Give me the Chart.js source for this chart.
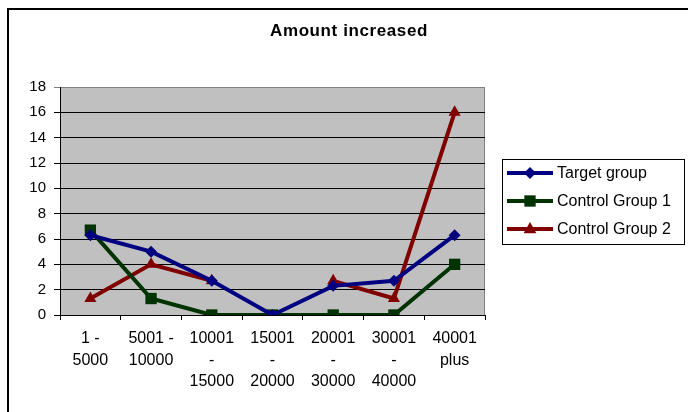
<!DOCTYPE html>
<html>
<head>
<meta charset="utf-8">
<script src="https://cdn.jsdelivr.net/npm/chart.js@4.4.1/dist/chart.umd.min.js"></script>
<style>
  html, body { margin: 0; padding: 0; background: #fff; }
  canvas { display: block; }
</style>
</head>
<body>
<canvas id="chart" width="688" height="412"></canvas>
<script>
const chartTitle = 'Amount increased';
const categories = [
    ['1 -', '5000'], ['5001 -', '10000'], ['10001', '-', '15000'], ['15001', '-', '20000'],
    ['20001', '-', '30000'], ['30001', '-', '40000'], ['40001', 'plus']
];
const targetGroup = [6.3, 5.0, 2.7, 0, 2.3, 2.7, 6.3];
const controlGroup1 = [6.7, 1.3, 0, 0, 0, 0, 4.0];
const controlGroup2 = [1.3, 4.0, 2.7, null, 2.7, 1.3, 16.0];
const yTicks = [0, 2, 4, 6, 8, 10, 12, 14, 16, 18];

const fontFamily = "'Liberation Sans', Arial, sans-serif";

function drawMarker(ctx, style, x, y, r, color) {
    ctx.fillStyle = color;
    ctx.beginPath();
    if (style === 'rectRot') {
        ctx.moveTo(x, y - r); ctx.lineTo(x + r, y); ctx.lineTo(x, y + r); ctx.lineTo(x - r, y);
    } else if (style === 'rect') {
        const s = r * Math.SQRT1_2;
        ctx.rect(x - s, y - s, 2 * s, 2 * s);
    } else {
        ctx.moveTo(x, y - r); ctx.lineTo(x + r * 0.9, y + r * 0.6); ctx.lineTo(x - r * 0.9, y + r * 0.6);
    }
    ctx.closePath();
    ctx.fill();
}

// frame, plot background, title and legend box
const excelLook = {
    id: 'excelLook',
    beforeDraw(chart) {
        const ctx = chart.ctx;
        const a = chart.chartArea;
        ctx.save();
        ctx.fillStyle = '#fff';
        ctx.fillRect(0, 0, chart.width, chart.height);
        ctx.fillStyle = '#000';
        ctx.fillRect(7, 8, chart.width - 7, 2);
        ctx.fillRect(7, 8, 2, chart.height - 8);
        ctx.fillStyle = '#c0c0c0';
        ctx.fillRect(a.left, a.top, a.right - a.left, a.bottom - a.top);
        ctx.strokeStyle = '#808080';
        ctx.lineWidth = 1;
        ctx.strokeRect(a.left + 0.5, a.top + 0.5, a.right - a.left - 1, a.bottom - a.top);
        ctx.restore();
    },
    afterDraw(chart) {
        const ctx = chart.ctx;
        ctx.save();
        ctx.fillStyle = '#000';
        ctx.font = 'bold 17px ' + fontFamily;
        ctx.letterSpacing = '0.6px';
        ctx.textAlign = 'center';
        ctx.textBaseline = 'middle';
        ctx.fillText(chartTitle, 349, 31);
        ctx.letterSpacing = '0px';

        ctx.strokeStyle = '#000';
        ctx.lineWidth = 1;
        ctx.strokeRect(502.5, 159.5, 182, 85);
        ctx.font = '16px ' + fontFamily;
        ctx.textAlign = 'left';
        chart.data.datasets.forEach((ds, i) => {
            const y = 173 + i * 28;
            ctx.strokeStyle = ds.borderColor;
            ctx.lineWidth = 4;
            ctx.beginPath();
            ctx.moveTo(507, y);
            ctx.lineTo(553, y);
            ctx.stroke();
            drawMarker(ctx, ds.pointStyle, 530, y, ds.pointRadius, ds.borderColor);
            ctx.fillStyle = '#000';
            ctx.fillText(ds.label, 557, y + 1);
        });
        ctx.restore();
    }
};

const ctx = document.getElementById('chart').getContext('2d');
new Chart(ctx, {
    type: 'line',
    data: {
        labels: categories,
        datasets: [{
            label: 'Target group',
            data: targetGroup,
            borderColor: '#000080',
            backgroundColor: '#000080',
            borderWidth: 4,
            pointStyle: 'rectRot',
            pointRadius: 6,
            pointBorderWidth: 0
        }, {
            label: 'Control Group 1',
            data: controlGroup1,
            borderColor: '#003300',
            backgroundColor: '#003300',
            borderWidth: 4,
            pointStyle: 'rect',
            pointRadius: 8,
            pointBorderWidth: 0
        }, {
            label: 'Control Group 2',
            data: controlGroup2,
            borderColor: '#800000',
            backgroundColor: '#800000',
            borderWidth: 4,
            pointStyle: 'triangle',
            pointRadius: 7,
            pointBorderWidth: 0
        }]
    },
    options: {
        responsive: false,
        animation: false,
        devicePixelRatio: 1,
        layout: { padding: { top: 87, left: 0, right: 203, bottom: 0 } },
        plugins: {
            legend: { display: false },
            title: { display: false },
            tooltip: { enabled: false }
        },
        scales: {
            x: {
                offset: true,
                afterFit(scale) { scale.height = 97; },
                grid: {
                    offset: true,
                    drawOnChartArea: false,
                    tickLength: 5,
                    color: '#000'
                },
                border: { color: '#000', width: 1 },
                ticks: {
                    color: '#000',
                    padding: 8,
                    maxRotation: 0,
                    autoSkip: false,
                    font: { family: fontFamily, size: 16, lineHeight: 1.34 }
                }
            },
            y: {
                min: 0,
                max: 18,
                afterFit(scale) { scale.width = 60; },
                afterBuildTicks(scale) { scale.ticks = yTicks.map(v => ({ value: v })); },
                grid: {
                    tickLength: 6,
                    color: c => (c.tick && c.tick.value === 18) ? '#808080' : '#000'
                },
                border: { color: '#000', width: 1 },
                ticks: {
                    color: '#000',
                    padding: 8,
                    font: { family: fontFamily, size: 15 }
                }
            }
        }
    },
    plugins: [excelLook]
});
</script>
</body>
</html>
